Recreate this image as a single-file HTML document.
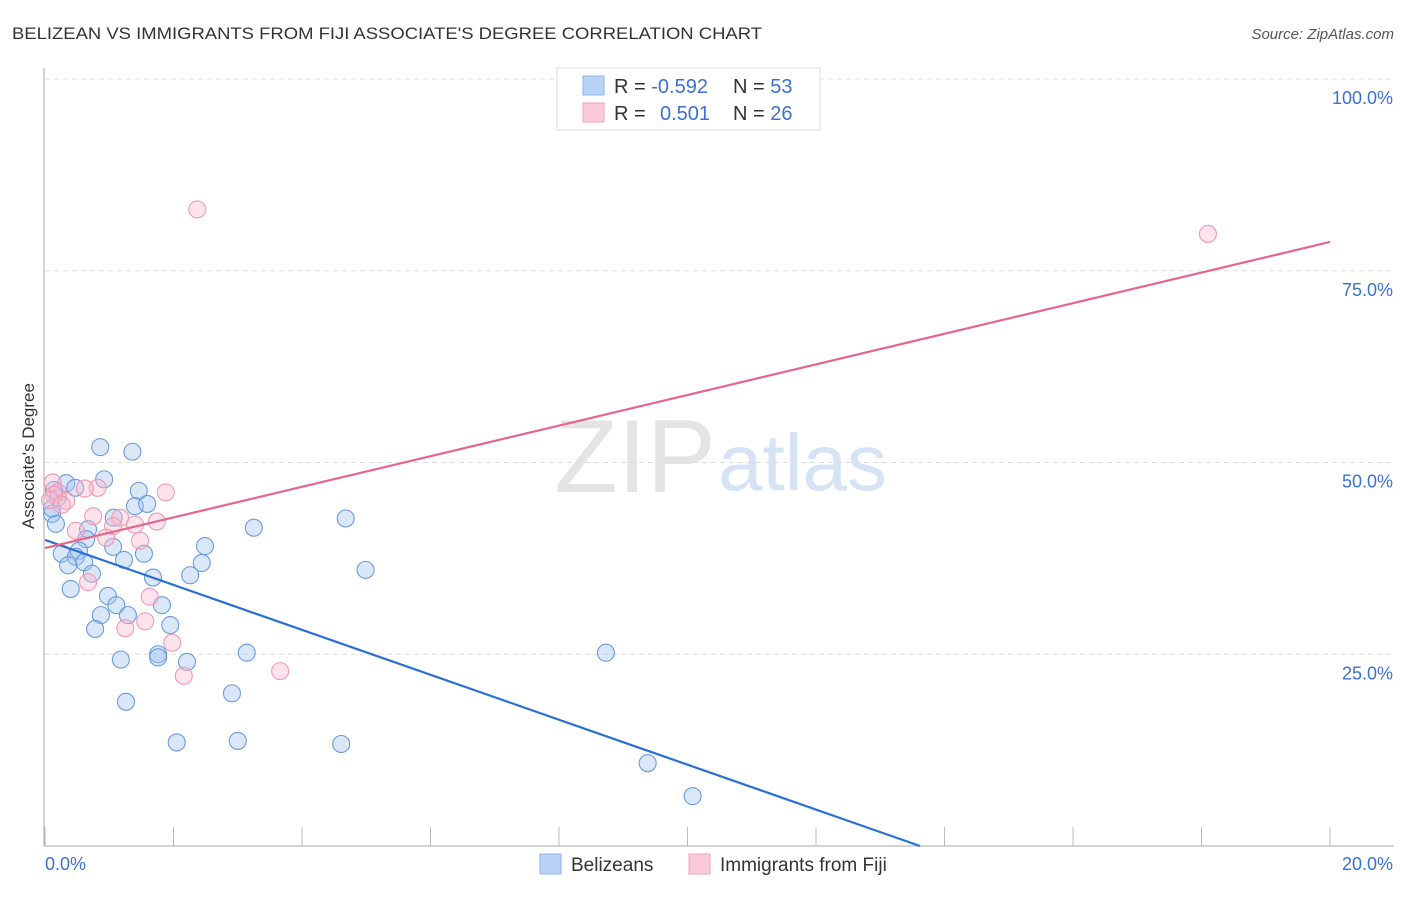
<!DOCTYPE html>
<html><head><meta charset="utf-8"><style>
body{margin:0;background:#fff;font-family:"Liberation Sans",sans-serif;}
svg text{font-family:"Liberation Sans",sans-serif;}
</style></head><body>
<svg id="chart" width="1406" height="892" xmlns="http://www.w3.org/2000/svg">
<text x="12" y="39" font-size="17" fill="#333" textLength="750" lengthAdjust="spacingAndGlyphs">BELIZEAN VS IMMIGRANTS FROM FIJI ASSOCIATE'S DEGREE CORRELATION CHART</text>
<text x="1394" y="39" font-size="15" fill="#555" text-anchor="end" font-style="italic">Source: ZipAtlas.com</text>
<text x="716" y="492" font-size="104" fill="#e4e4e4" text-anchor="end" font-family="Liberation Serif">ZIP</text>
<text x="718" y="490" font-size="80" fill="#d5e3f5">atlas</text>
<text transform="translate(34,456) rotate(-90)" font-size="17" fill="#333" text-anchor="middle">Associate's Degree</text>
<g id="grid"></g><g id="axes"></g><g id="marks"></g>
<g>
<rect x="557" y="68" width="263" height="62" fill="#fff" stroke="#ddd"/>
<rect x="583" y="76" width="21" height="19" fill="#b8d3f5" stroke="#8fb6ea"/>
<rect x="583" y="103" width="21" height="19" fill="#fcc9d8" stroke="#f3a2bb"/>
<text x="614" y="93" font-size="20" fill="#333">R = <tspan fill="#3a72d0">-0.592</tspan></text>
<text x="733" y="93" font-size="20" fill="#333">N = <tspan fill="#3a72d0">53</tspan></text>
<text x="614" y="120" font-size="20" fill="#333">R = <tspan fill="#3a72d0" x="660">0.501</tspan></text>
<text x="733" y="120" font-size="20" fill="#333">N = <tspan fill="#3a72d0">26</tspan></text>
</g>
<g>
<rect x="540" y="854" width="21" height="20" fill="#b8d3f5" stroke="#8fb6ea"/>
<text x="571" y="871" font-size="19" fill="#333">Belizeans</text>
<rect x="689" y="854" width="21" height="20" fill="#fcc9d8" stroke="#f3a2bb"/>
<text x="720" y="871" font-size="19" fill="#333">Immigrants from Fiji</text>
</g>
</svg>
<script>
const xTicks=[0,2,4,6,8,10,12,14,16,18,20];
const yTicks=[25,50,75,100];
const yTickLabels=["25.0%","50.0%","75.0%","100.0%"];
const blueX=[0.86,1.36,0.92,0.33,0.47,0.14,1.46,1.40,1.59,0.11,1.07,0.17,0.67,3.25,4.68,0.64,1.06,2.49,0.53,0.26,1.54,0.48,0.61,1.23,0.36,2.44,4.99,1.68,2.26,0.73,0.40,0.98,1.11,1.82,0.87,1.29,1.95,0.78,3.14,1.76,1.76,8.73,1.18,2.21,2.91,1.26,2.05,3.00,4.61,9.38,10.08,0.11,0.20];
const blueY=[52.0,51.4,47.8,47.3,46.7,46.4,46.3,44.3,44.6,43.3,42.8,42.0,41.3,41.5,42.7,40.0,39.0,39.1,38.5,38.1,38.1,37.7,37.0,37.3,36.6,36.9,36.0,35.0,35.3,35.5,33.5,32.6,31.4,31.4,30.1,30.1,28.8,28.3,25.2,25.0,24.6,25.2,24.3,24.0,19.9,18.8,13.5,13.7,13.3,10.8,6.5,44.0,45.4];
const pinkX=[2.37,18.10,0.12,0.20,0.82,0.62,0.33,1.88,0.14,0.75,1.17,1.74,1.40,1.06,0.48,0.95,1.48,0.67,1.63,1.56,1.25,1.98,2.16,3.66,0.08,0.26];
const pinkY=[83.0,79.8,47.4,46.1,46.7,46.6,45.0,46.1,45.8,43.0,42.8,42.3,41.9,41.7,41.1,40.2,39.8,34.4,32.5,29.3,28.4,26.5,22.2,22.8,45.1,44.5];
const blueLine=[0,39.9,13.62,0];
const pinkLine=[0,38.85,20,78.75];
const X=v=>45+v/20*1285, Y=v=>846-v/100*767;
const ns="http://www.w3.org/2000/svg";
function mk(p,t,a){const e=document.createElementNS(ns,t);for(const k in a)e.setAttribute(k,a[k]);document.getElementById(p).appendChild(e);return e;}
yTicks.forEach((t,i)=>{
 const l=mk('grid','line',{x1:45,x2:1394,y1:Y(t),y2:Y(t),stroke:'#ddd','stroke-dasharray':'5,4'});
 
 
 const tx=mk('axes','text',{x:1393,y:Y(t)+25,'font-size':18,fill:'#3a72d0','text-anchor':'end'});tx.textContent=yTickLabels[i];
 
 
});
const ya=mk('axes','line',{x1:44,x2:44,y1:68,y2:846,stroke:'#aaa'});


const xa=mk('axes','line',{x1:44,x2:1394,y1:846,y2:846,stroke:'#aaa'});


xTicks.forEach(t=>{const l=mk('axes','line',{x1:X(t),x2:X(t),y1:827,y2:846,stroke:'#bbb'});
 
 });
const x0=mk('axes','text',{x:45,y:870,'font-size':18,fill:'#3a72d0'});x0.textContent="0.0%";


const x1=mk('axes','text',{x:1393,y:870,'font-size':18,fill:'#3a72d0','text-anchor':'end'});x1.textContent="20.0%";


blueX.forEach((v,i)=>{const c=mk('marks','circle',{cx:X(v),cy:Y(blueY[i]),r:8.5,fill:'rgba(160,196,240,0.4)',stroke:'#6a9cde','stroke-width':1.1});
 
 });
pinkX.forEach((v,i)=>{const c=mk('marks','circle',{cx:X(v),cy:Y(pinkY[i]),r:8.5,fill:'rgba(250,185,205,0.4)',stroke:'#ee9ab5','stroke-width':1.1});
 
 });
const bl=mk('marks','line',{x1:X(blueLine[0]),y1:Y(blueLine[1]),x2:X(blueLine[2]),y2:Y(blueLine[3]),stroke:'#2a6fd6','stroke-width':2.2});


const pl=mk('marks','line',{x1:X(pinkLine[0]),y1:Y(pinkLine[1]),x2:X(pinkLine[2]),y2:Y(pinkLine[3]),stroke:'#e5658f','stroke-width':2.2});


</script>
</body></html>
